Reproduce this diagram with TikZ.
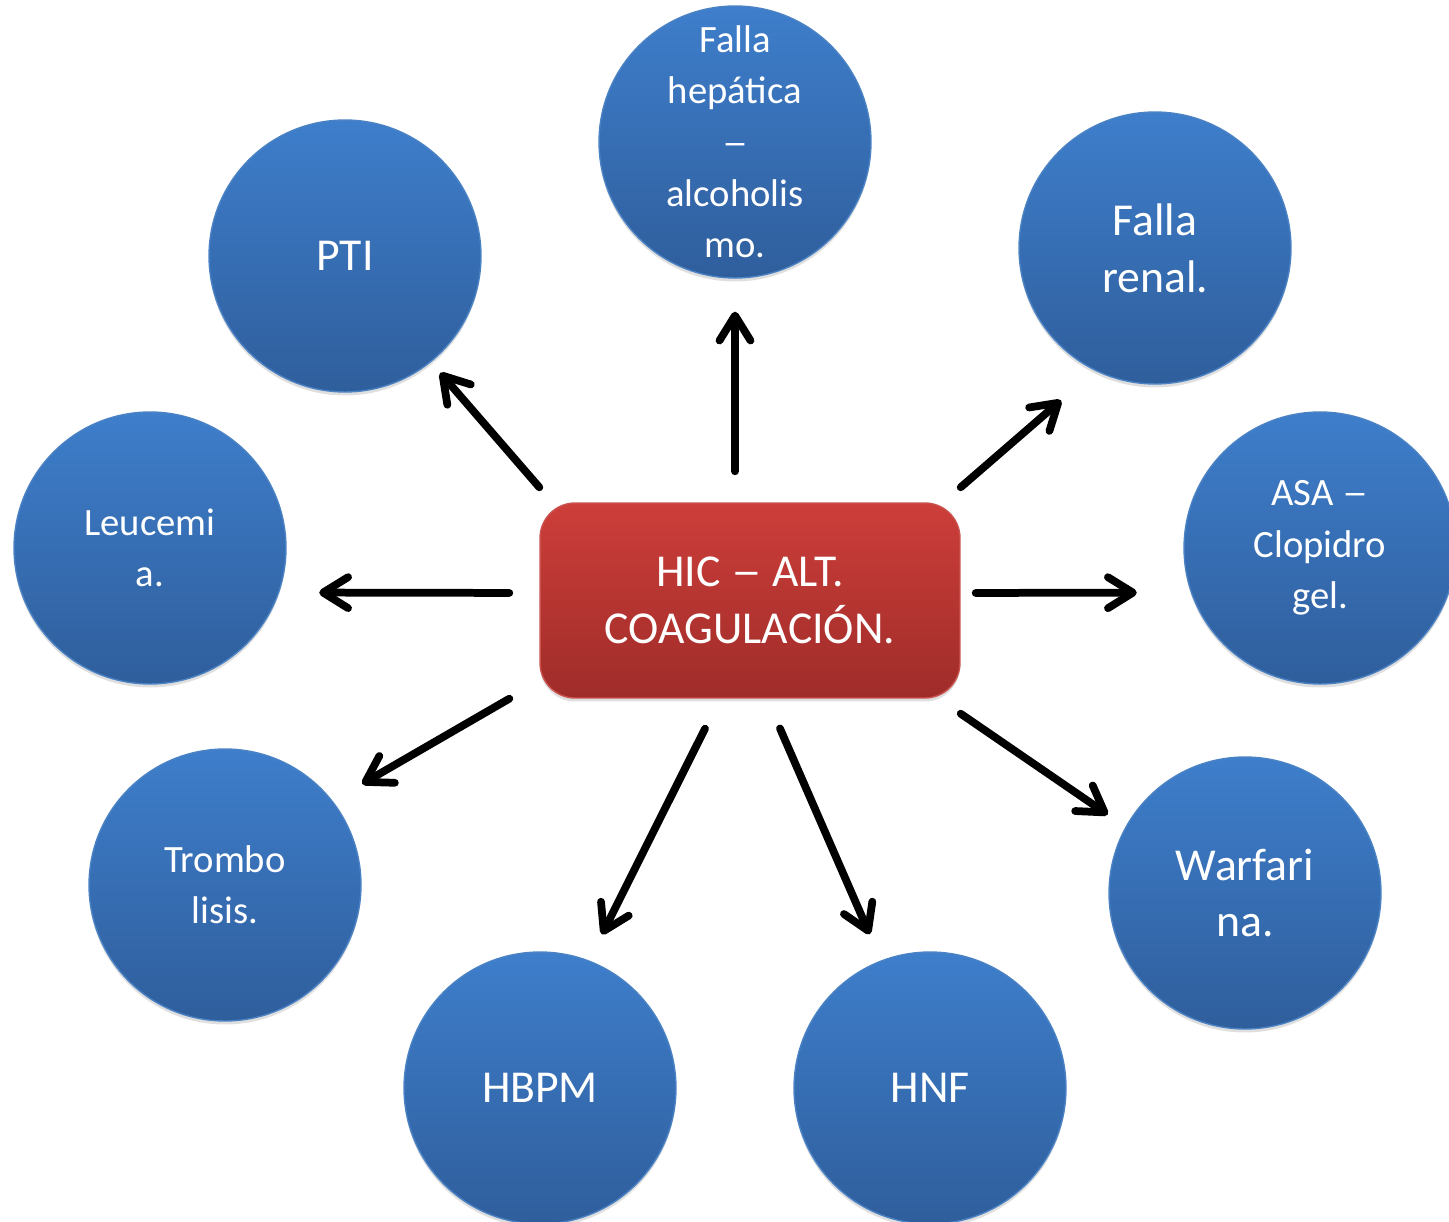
\documentclass[tikz,border=0pt]{standalone}
\usepackage{fontspec}
\setmainfont{Carlito}
\usetikzlibrary{calc}
\usetikzlibrary{arrows.meta}
\usetikzlibrary{shadows}
\definecolor{bltop}{HTML}{3E7ECB}
\definecolor{blbot}{HTML}{2F5E9C}
\definecolor{bledge}{HTML}{4A82C4}
\definecolor{rdtop}{HTML}{CD3E3A}
\definecolor{rdbot}{HTML}{9F2C29}
\definecolor{rdedge}{HTML}{C9524E}
\newcommand{\longdash}{\scalebox{1.35}[1]{–}}

\begin{document}
\begin{tikzpicture}[x=0.02cm, y=-0.02cm,
  blob/.style={circle, minimum size=5.44cm, inner sep=0pt, draw=bledge, line width=0.8pt,
    top color=bltop, bottom color=blbot, text=white, align=center,
    drop shadow={shadow xshift=0pt, shadow yshift=-2pt, opacity=0.25}},
  big/.style={font=\fontsize{26}{32.3}\selectfont},
  small/.style={font=\fontsize{22}{29.2}\selectfont},
  arr/.style={black, line width=0.155cm, line cap=round,
    -{Straight Barb[length=0.5cm, width=0.62cm, round]}}]
\useasboundingbox (0,0) rectangle (1449,1222);
\clip (0,0) rectangle (1449,1222);

\node[rectangle, rounded corners=0.7cm, minimum width=8.4cm, minimum height=3.9cm,
  draw=rdedge, line width=0.8pt, top color=rdtop, bottom color=rdbot, text=white,
  align=center, big, drop shadow={shadow xshift=0pt, shadow yshift=-2pt, opacity=0.25}]
  (hic) at (750,600.5) {HIC \longdash{} ALT.\\COAGULACIÓN.};

\node[blob, small] (hep) at (735,142)  {Falla\\hepática\\\longdash\\alcoholis\\mo.};
\node[blob, big]   (pti) at (345,256)  {PTI};
\node[blob, big]   (ren) at (1155,248) {Falla\\renal.};
\node[blob, small] (leu) at (150,548)  {Leucemi\\a.};
\node[blob, small] (asa) at (1320,548) {ASA \longdash\\Clopidro\\gel.};
\node[blob, small] (tro) at (225,885)  {Trombo\\lisis.};
\node[blob, big]   (hbp) at (540,1088) {HBPM};
\node[blob, big]   (hnf) at (930,1088) {HNF};
\node[blob, big]   (war) at (1245,893) {Warfari\\na.};

\draw[arr, shorten <=0.62cm, shorten >=0.66cm] (hic.north -| hep.south) -- (hep.south);
\draw[arr, shorten >=0.28cm] ([yshift=0.3cm]hic.north west) -- (pti.-51);
\draw[arr, shorten >=0.9cm] ([yshift=0.3cm]hic.north east) -- (ren.-116);
\draw[arr, shorten <=0.6cm, shorten >=0.8cm] ([yshift=0.15cm]hic.west) -- (leu.-19);
\draw[arr, shorten <=0.3cm, shorten >=1.08cm] ([yshift=0.15cm]hic.east) -- (asa.-161);
\draw[arr, shorten >=0.68cm] ([xshift=-0.6cm]hic.south west) -- (tro.38);
\draw[arr, shorten <=0.67cm, shorten >=0.58cm] ([xshift=-0.6cm]hic.south) -- (hbp.69);
\draw[arr, shorten <=0.65cm, shorten >=0.57cm] ([xshift=0.34cm]hic.south) -- (hnf.111);
\draw[arr, shorten >=0.43cm] ([yshift=-0.3cm]hic.south east) -- (war.151);
\end{tikzpicture}
\end{document}
